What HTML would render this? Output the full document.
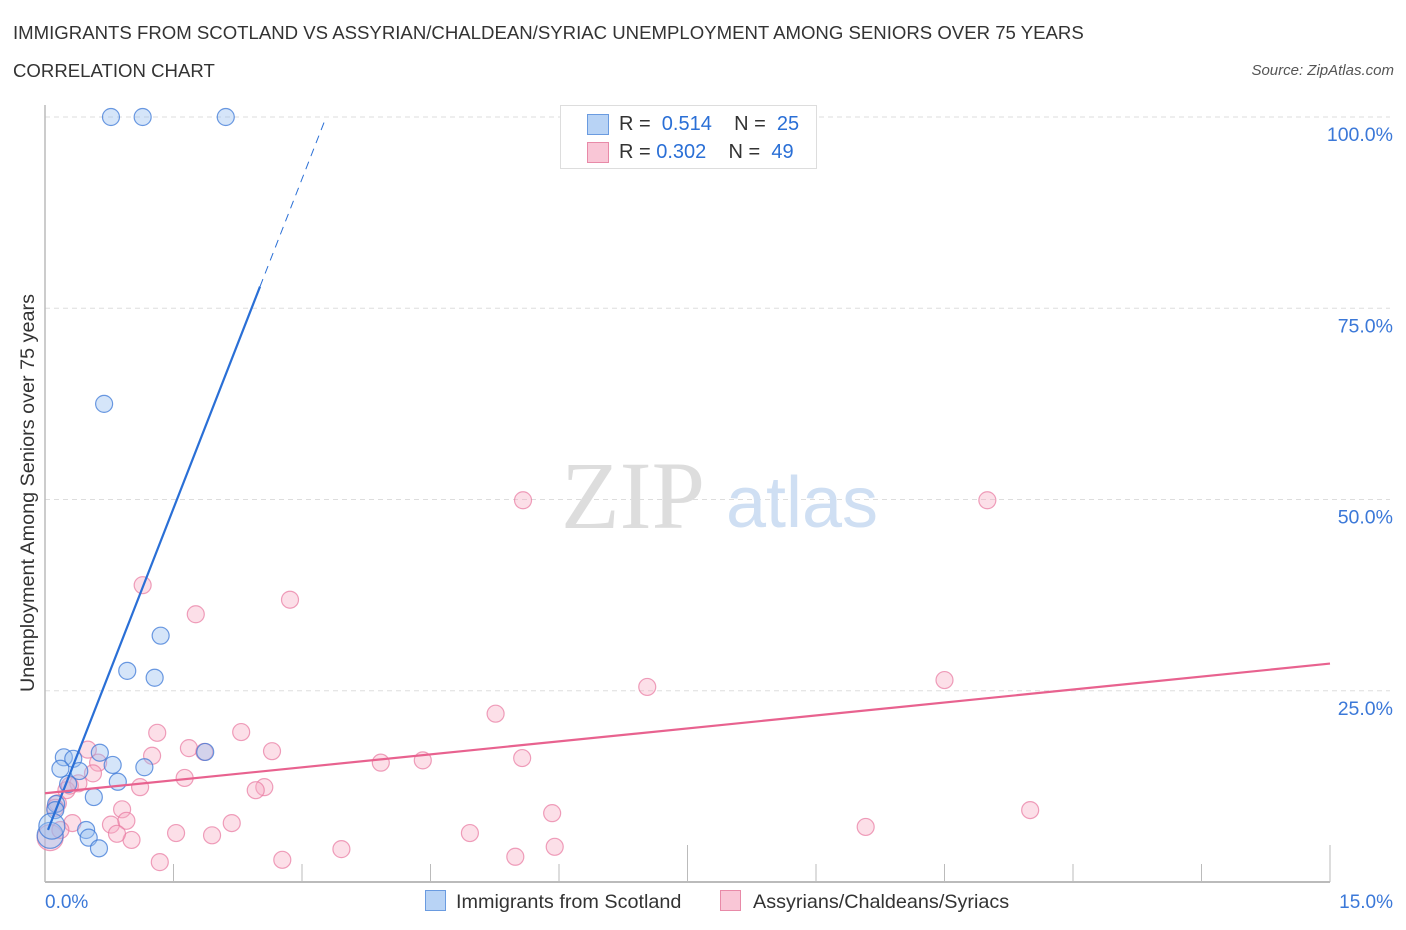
<!DOCTYPE html>
<html><head><meta charset="utf-8"><style>
body{margin:0;background:#fff;font-family:"Liberation Sans",sans-serif;}
#wrap{position:relative;width:1406px;height:930px;overflow:hidden;}
.t{position:absolute;white-space:nowrap;}
</style></head><body>
<div id="wrap">
<div class="t" style="left:13px;top:22px;font-size:18.6px;color:#333;">IMMIGRANTS FROM SCOTLAND VS ASSYRIAN/CHALDEAN/SYRIAC UNEMPLOYMENT AMONG SENIORS OVER 75 YEARS</div>
<div class="t" style="left:13px;top:60px;font-size:18.6px;color:#333;">CORRELATION CHART</div>
<div class="t" style="right:12px;top:62px;font-size:15px;color:#555;font-style:italic;">Source: ZipAtlas.com</div>
<svg id="svg" width="1406" height="930" style="position:absolute;left:0;top:0"></svg>
</div>
<script>
const xTicksVals=[0,1.5,3,4.5,6,7.5,9,10.5,12,13.5,15];
const yTickVals=[25,50,75,100];
const yTickLabels=["25.0%","50.0%","75.0%","100.0%"];
const blueX=[0.77,1.14,2.11,0.69,1.35,0.96,1.28,0.22,0.64,0.33,0.79,1.16,0.18,0.40,0.85,0.57,0.27,0.13,0.12,0.48,0.51,0.63,0.06,1.87,0.08];
const blueY=[100,100,100,62.5,32.2,27.6,26.7,16.3,16.9,16.1,15.3,15.0,14.8,14.5,13.1,11.1,12.8,10.2,9.4,6.8,5.8,4.4,6.1,17.0,7.3];
const pinkX=[1.14,1.76,2.86,5.58,11.0,7.03,10.5,5.26,1.31,2.29,1.68,2.65,0.50,1.25,1.86,0.62,3.92,4.41,5.57,0.56,1.63,0.39,0.25,1.11,2.56,2.46,0.90,5.92,11.5,0.15,0.77,0.95,0.32,2.18,1.53,1.95,1.01,0.84,4.96,9.58,1.34,2.77,3.46,5.49,5.95,0.06,0.18,0.12,0.29];
const pinkY=[38.8,35.0,36.9,49.9,49.9,25.5,26.4,22.0,19.5,19.6,17.5,17.1,17.3,16.5,17.0,15.6,15.6,15.9,16.2,14.2,13.6,12.9,12.0,12.4,12.4,12.0,9.5,9.0,9.4,10.3,7.5,8.0,7.7,7.7,6.4,6.1,5.5,6.3,6.4,7.2,2.6,2.9,4.3,3.3,4.6,5.8,6.8,9.7,12.6];
const blueTrend=[5.8,28.7];
const pinkTrend=[11.6,1.13];

const X=v=>45+v/15*1285, Y=v=>882-v*7.65;
const svg=document.getElementById('svg');
const NS='http://www.w3.org/2000/svg';
function mk(tag,at,parent){const e=document.createElementNS(NS,tag);for(const k in at)e.setAttribute(k,at[k]);(parent||svg).appendChild(e);return e;}
yTickVals.forEach((v,i)=>{
 const g=mk('line',{x1:45,x2:1390,y1:Y(v),y2:Y(v),stroke:'#ddd','stroke-dasharray':'5,4'});
 
 
 const t=mk('text',{x:1393,y:Y(v)+24,'text-anchor':'end','font-size':19.5,fill:'#3b78d8'});
 t.textContent=yTickLabels[i];
 
 
});
const ax=mk('line',{x1:45,x2:1330,y1:882,y2:882,stroke:'#bbb','stroke-width':2});


const ay=mk('line',{x1:45,x2:45,y1:105,y2:882,stroke:'#bbb','stroke-width':1.5});


xTicksVals.forEach((v,i)=>{if(i==0)return;
 const tall=(i==5||i==10);
 const l=mk('line',{x1:X(v),x2:X(v),y1:tall?845:864,y2:882,stroke:'#bbb'});
 
 
});
const w1=mk('text',{x:633,y:528,'text-anchor':'middle','font-size':96,fill:'#ddd','font-family':'Liberation Serif'});w1.textContent='ZIP';


const w2=mk('text',{x:802,y:527,'text-anchor':'middle','font-size':72,fill:'#cfdff3'});w2.textContent='atlas';


function pts(xs,ys,fill,stroke,name){xs.forEach((x,i)=>{
 const big=x<0.1;
 const c=mk('circle',{cx:X(x),cy:Y(ys[i]),r:big?13:8.5,fill:fill,stroke:stroke,'stroke-width':1.2});
 
 
});}
pts(pinkX,pinkY,'rgba(248,170,195,0.38)','rgba(232,120,160,0.7)','pink-point');
pts(blueX,blueY,'rgba(150,190,240,0.4)','rgba(60,120,215,0.75)','blue-point');
const xEndSolid=2.51, xEndDash=(100-blueTrend[0])/blueTrend[1];
const bl=mk('line',{x1:X(0.035),y1:Y(blueTrend[0]+blueTrend[1]*0.035),x2:X(xEndSolid),y2:Y(blueTrend[0]+blueTrend[1]*xEndSolid),stroke:'#2a6fd6','stroke-width':2.2});


const bd=mk('line',{x1:X(xEndSolid),y1:Y(blueTrend[0]+blueTrend[1]*xEndSolid),x2:X(xEndDash),y2:Y(100),stroke:'#2a6fd6','stroke-width':1,'stroke-dasharray':'8,6'});


const pl=mk('line',{x1:X(0),y1:Y(pinkTrend[0]),x2:X(15),y2:Y(pinkTrend[0]+pinkTrend[1]*15),stroke:'#e8628f','stroke-width':2.2});


const x0=mk('text',{x:45,y:908,'font-size':19,fill:'#3b78d8'});x0.textContent='0.0%';


const x1=mk('text',{x:1393,y:908,'text-anchor':'end','font-size':19,fill:'#3b78d8'});x1.textContent='15.0%';


const yt=mk('text',{transform:'translate(34,493) rotate(-90)','text-anchor':'middle','font-size':19.8,fill:'#333'});yt.textContent='Unemployment Among Seniors over 75 years';


</script>
<div class="t" style="left:560px;top:105px;width:255px;height:62px;border:1px solid #ddd;background:#fff;font-size:20px;color:#333;">
 <div style="position:absolute;left:26px;top:8px;width:20px;height:19px;background:#b8d3f5;border:1px solid #6a9be0;"></div>
 <div style="position:absolute;left:58px;top:7px;">R = &nbsp;<span style="color:#2a6fd6">0.514</span>&nbsp;&nbsp;&nbsp; N = &nbsp;<span style="color:#2a6fd6">25</span></div>
 <div style="position:absolute;left:26px;top:36px;width:20px;height:19px;background:#f9c6d6;border:1px solid #e88aa8;"></div>
 <div style="position:absolute;left:58px;top:35px;">R = <span style="color:#2a6fd6">0.302</span>&nbsp;&nbsp;&nbsp; N = &nbsp;<span style="color:#2a6fd6">49</span></div>
</div>
<div class="t" style="left:425px;top:890px;font-size:19.8px;color:#333;"><span style="display:inline-block;width:19px;height:19px;background:#b8d3f5;border:1px solid #6a9be0;vertical-align:-3px;margin-right:10px;"></span>Immigrants from Scotland</div>
<div class="t" style="left:720px;top:890px;font-size:19.8px;color:#333;"><span style="display:inline-block;width:19px;height:19px;background:#f9c6d6;border:1px solid #e88aa8;vertical-align:-3px;margin-right:12px;"></span>Assyrians/Chaldeans/Syriacs</div>
</body></html>
